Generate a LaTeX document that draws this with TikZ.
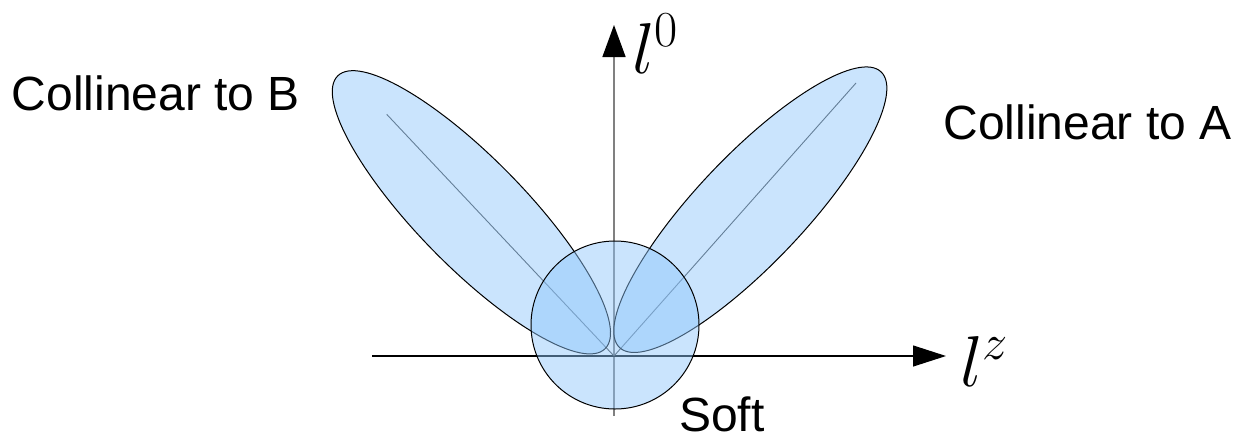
\RequirePackage{fix-cm}
\documentclass[tikz,border=0pt]{standalone}
\usepackage{fontspec}
\newfontfamily\lsans{Liberation Sans}
\usetikzlibrary{arrows.meta}
\definecolor{lobeblue}{RGB}{142,198,251}
\tikzset{
  lobe/.style={draw=black, line width=1pt, fill=lobeblue, fill opacity=0.47},
  lobeaxis/.style={draw=black!75, line width=0.9pt},
  lab/.style={font=\lsans\fontsize{48}{58}\selectfont, inner sep=0pt, anchor=base},
  mlab/.style={font=\fontsize{72}{72}\selectfont, inner sep=0pt, anchor=base west},
}
\begin{document}
\begin{tikzpicture}[x=1pt, y=-1pt]
\useasboundingbox (0,0) rectangle (1233,442);
% axes
\coordinate (O) at (614,356);
\coordinate (vb) at (614,416);
\coordinate (vt) at (614,25);
\coordinate (hl) at (372,356);
\coordinate (hr) at (946,356);
\draw[line width=1.5pt, black!50, -{Triangle[length=32pt,width=23pt,color=black]}] (vb) -- (vt);
\draw[line width=1.2pt, black, -{Triangle[length=33pt,width=21pt]}] (hl) -- (hr);
% lobe axes
\coordinate (ra) at (856,83);
\coordinate (la) at (386.7,114.3);
\draw[lobeaxis] (O) -- (ra);
\draw[lobeaxis] (O) -- (la);
% lobes
\draw[lobe, rotate around={46.5:(750.3,209.7)}] (750.3,209.7) ellipse [x radius=190pt, y radius=54pt];
\draw[lobe, rotate around={-45.6:(471.4,212.3)}] (471.4,212.3) ellipse [x radius=191pt, y radius=54pt];
% soft circle
\draw[lobe] (615,325) circle [radius=84pt];
% labels
\node[mlab] (l0) at (632,73) {$l^0$};
\node[mlab] (lz) at (960,386) {$l^z$};
\node[lab] (cb) at (156,110) {Collinear to B};
\node[lab] (ca) at (1087.5,139) {Collinear to A};
\node[lab, anchor=base west] (soft) at (679,431) {Soft};
\end{tikzpicture}
\end{document}
